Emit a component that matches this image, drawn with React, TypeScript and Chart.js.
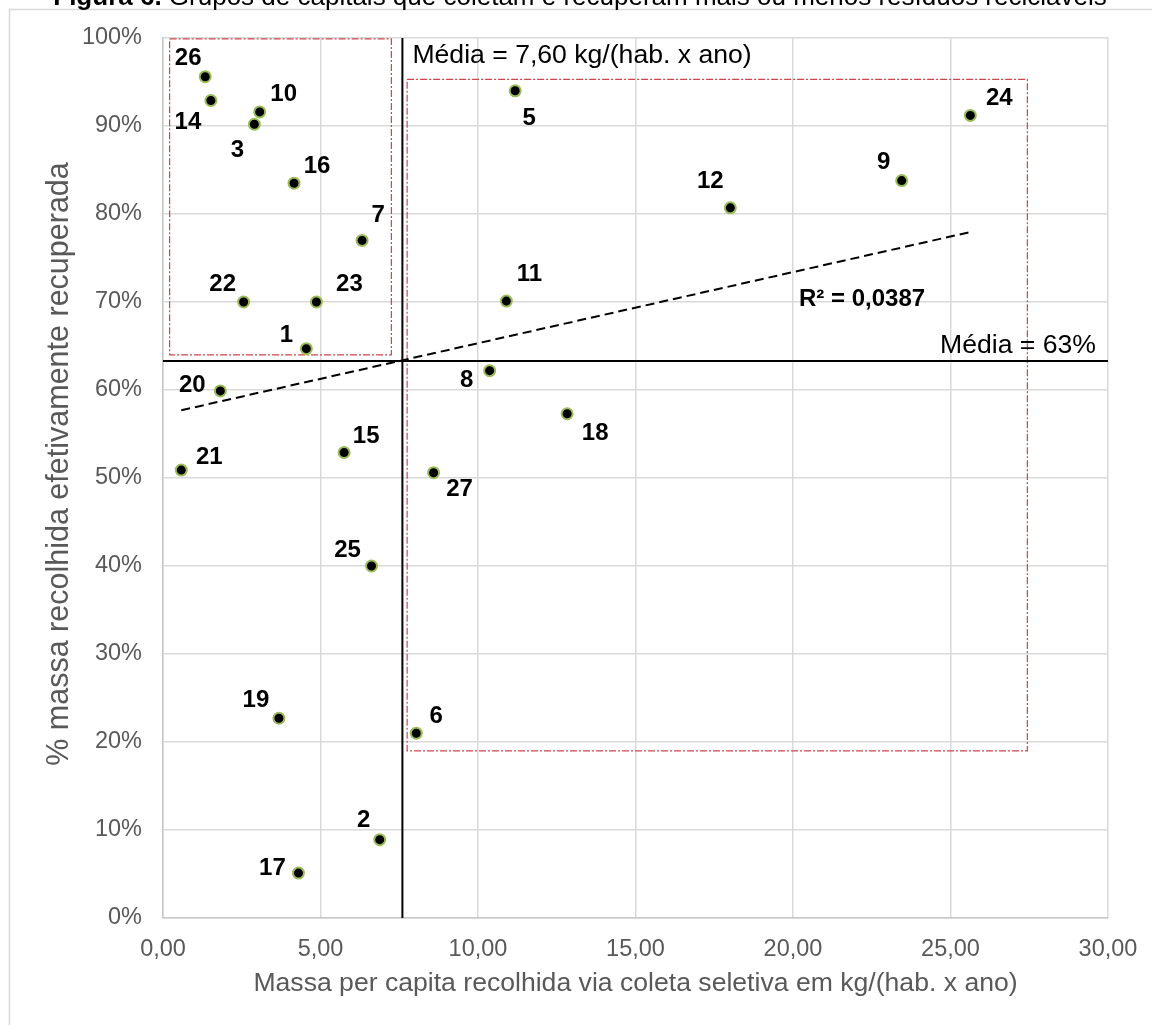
import React, { useEffect, useRef } from "react";
import { Chart, registerables } from "chart.js";

Chart.register(...registerables);

// ---- Data ----
const cityIds = ["1","2","3","5","6","7","8","9","10","11","12","14","15","16","17","18","19","20","21","22","23","24","25","26","27"];
const massPerCapita = [4.55,6.88,2.90,11.18,8.04,6.32,10.37,23.45,3.07,10.90,18.01,1.52,5.75,4.16,4.30,12.83,3.68,1.82,0.58,2.56,4.87,25.63,6.62,1.34,8.59];
const recoveredPct = [64.7,8.9,90.2,94.0,21.0,77.0,62.2,83.8,91.6,70.1,80.7,92.9,52.9,83.5,5.1,57.3,22.7,59.9,50.9,70.0,70.0,91.2,40.0,95.6,50.6];

const meanX = 7.6;
const meanY = 63.3;
const trendX = [0.58, 25.57];
const trendY = [57.7, 77.9];
const boxLowX = [0.21, 7.25, 7.25, 0.21, 0.21];
const boxLowY = [99.9, 99.9, 64.0, 64.0, 99.9];
const boxHighX = [7.75, 27.44, 27.44, 7.75, 7.75];
const boxHighY = [95.3, 95.3, 19.0, 19.0, 95.3];

const xTicksMax = 30;
const yTicksMax = 100;

const titleBold = "Figura 6.";
const titleRest = " Grupos de capitais que coletam e recuperam mais ou menos resíduos recicláveis";
const xTitle = "Massa per capita recolhida via coleta seletiva em kg/(hab. x ano)";
const yTitle = "% massa recolhida efetivamente recuperada";
const meanXLabel = "Média = 7,60 kg/(hab. x ano)";
const meanYLabel = "Média = 63%";
const r2Label = "R² = 0,0387";

// ---- Styling (label offsets in px, not data) ----
const labelOffsets: [number, number][] = [
  [-20,-7],[-16,-13],[-17,33],[14,34],[20,-10],[16,-18],[-23,16],[-18,-12],[24,-11],[23,-20],
  [-20,-20],[-23,29],[22,-9],[23,-10],[-26,2],[28,26],[-23,-11],[-28,1],[28,-6],[-21,-11],
  [33,-11],[29,-10],[-24,-9],[-17,-12],[26,23]
];

const FONT = '"Liberation Sans", Arial, sans-serif';
const BOX_COLOR = "rgb(205,70,75)";

const toXY = (xs: number[], ys: number[]) => xs.map((x, i) => ({ x, y: ys[i] }));

const framePlugin = {
  id: "frameTitle",
  beforeDraw(chart: any) {
    const ctx = chart.ctx;
    ctx.save();
    ctx.fillStyle = "#ffffff";
    ctx.fillRect(0, 0, chart.width, chart.height);
    ctx.strokeStyle = "#d9d9d9";
    ctx.lineWidth = 1.5;
    ctx.strokeRect(9.5, 9.5, chart.width + 50, chart.height + 50);
    ctx.restore();
  },
  afterDraw(chart: any) {
    const ctx = chart.ctx;
    ctx.save();
    ctx.fillStyle = "#000";
    ctx.textBaseline = "alphabetic";
    ctx.textAlign = "left";
    ctx.font = `bold 26px ${FONT}`;
    const w1 = ctx.measureText(titleBold).width;
    ctx.font = `26px ${FONT}`;
    const w2 = ctx.measureText(titleRest).width;
    const start = 580 - (w1 + w2) / 2;
    ctx.font = `bold 26px ${FONT}`;
    ctx.fillText(titleBold, start, 4.5);
    ctx.font = `26px ${FONT}`;
    ctx.fillText(titleRest, start + w1, 4.5);

    // y axis title
    ctx.save();
    ctx.translate(68, 464);
    ctx.rotate(-Math.PI / 2);
    ctx.font = `30.5px ${FONT}`;
    ctx.fillStyle = "#595959";
    ctx.textAlign = "center";
    ctx.textBaseline = "alphabetic";
    ctx.fillText(yTitle, 0, 0);
    ctx.restore();
    ctx.restore();
  },
};

const labelsPlugin = {
  id: "pointLabels",
  afterDatasetsDraw(chart: any) {
    const ctx = chart.ctx;
    const meta = chart.getDatasetMeta(0);
    ctx.save();
    ctx.font = `bold 24px ${FONT}`;
    ctx.fillStyle = "#000";
    ctx.textAlign = "center";
    ctx.textBaseline = "alphabetic";
    meta.data.forEach((pt: any, i: number) => {
      const [dx, dy] = labelOffsets[i];
      ctx.fillText(cityIds[i], pt.x + dx, pt.y + dy);
    });
    const xs = chart.scales.x;
    const ys = chart.scales.y;
    ctx.font = `26.6px ${FONT}`;
    ctx.textAlign = "left";
    ctx.fillText(meanXLabel, xs.getPixelForValue(meanX) + 10, 63);
    ctx.textAlign = "right";
    ctx.fillText(meanYLabel, chart.chartArea.right - 12, ys.getPixelForValue(meanY) - 8);
    ctx.font = `bold 24px ${FONT}`;
    ctx.textAlign = "left";
    ctx.fillText(r2Label, 799, 306);
    ctx.restore();
  },
};

export default function App() {
  const ref = useRef<HTMLCanvasElement | null>(null);
  useEffect(() => {
    if (!ref.current) return;
    const chart = new Chart(ref.current, {
      type: "scatter",
      data: {
        datasets: [
          {
            data: toXY(massPerCapita, recoveredPct),
            backgroundColor: "#000000",
            borderColor: "#9BBB59",
            borderWidth: 2,
            pointRadius: 5.5,
            order: 0,
          },
          {
            data: toXY(trendX, trendY),
            showLine: true,
            borderColor: "#000",
            borderWidth: 2,
            borderDash: [9, 5],
            pointRadius: 0,
            order: 1,
          },
          {
            data: [{ x: meanX, y: 0 }, { x: meanX, y: yTicksMax }],
            showLine: true,
            borderColor: "#000",
            borderWidth: 2,
            pointRadius: 0,
            order: 2,
          },
          {
            data: [{ x: 0, y: meanY }, { x: xTicksMax, y: meanY }],
            showLine: true,
            borderColor: "#000",
            borderWidth: 2,
            pointRadius: 0,
            order: 2,
          },
          {
            data: toXY(boxLowX, boxLowY),
            showLine: true,
            borderColor: BOX_COLOR,
            borderWidth: 1.2,
            borderDash: [7, 2, 2, 2],
            pointRadius: 0,
            order: 3,
          },
          {
            data: toXY(boxHighX, boxHighY),
            showLine: true,
            borderColor: BOX_COLOR,
            borderWidth: 1.2,
            borderDash: [7, 2, 2, 2],
            pointRadius: 0,
            order: 3,
          },
        ],
      },
      options: {
        animation: false,
        responsive: false,
        maintainAspectRatio: false,
        layout: { padding: { top: 38, right: 44, left: 0, bottom: 0 } },
        plugins: { legend: { display: false }, tooltip: { enabled: false }, title: { display: false } },
        scales: {
          x: {
            type: "linear",
            min: 0,
            max: xTicksMax,
            ticks: {
              stepSize: 5,
              padding: 17,
              color: "#595959",
              font: { family: FONT, size: 23.5 },
              callback: (v: any) => Number(v).toFixed(2).replace(".", ","),
            },
            grid: { color: "#d9d9d9", lineWidth: 1.5, drawTicks: false },
            border: { color: "#c8c8c8", width: 1.5 },
            title: {
              display: true,
              text: xTitle,
              color: "#595959",
              font: { family: FONT, size: 26.6 },
              padding: { top: 0, bottom: 25 },
            },
            afterFit: (s: any) => { s.height = 107; s.paddingLeft = 0; s.paddingRight = 0; },
          },
          y: {
            type: "linear",
            min: 0,
            max: yTicksMax,
            ticks: {
              stepSize: 10,
              padding: 21,
              color: "#595959",
              font: { family: FONT, size: 23.5 },
              callback: (v: any) => `${v}%`,
            },
            grid: { color: "#d9d9d9", lineWidth: 1.5, drawTicks: false },
            border: { color: "#c8c8c8", width: 1.5 },
            title: { display: false, text: yTitle },
            afterFit: (s: any) => { s.width = 163; s.paddingTop = 0; s.paddingBottom = 0; },
          },
        },
      },
      plugins: [framePlugin, labelsPlugin],
    });
    return () => chart.destroy();
  }, []);

  return (
    <div style={{ position: "absolute", top: 0, left: 0, width: 1152, height: 1025, overflow: "hidden" }}>
      <canvas ref={ref} width={1152} height={1025} style={{ display: "block", width: 1152, height: 1025 }} />
    </div>
  );
}
